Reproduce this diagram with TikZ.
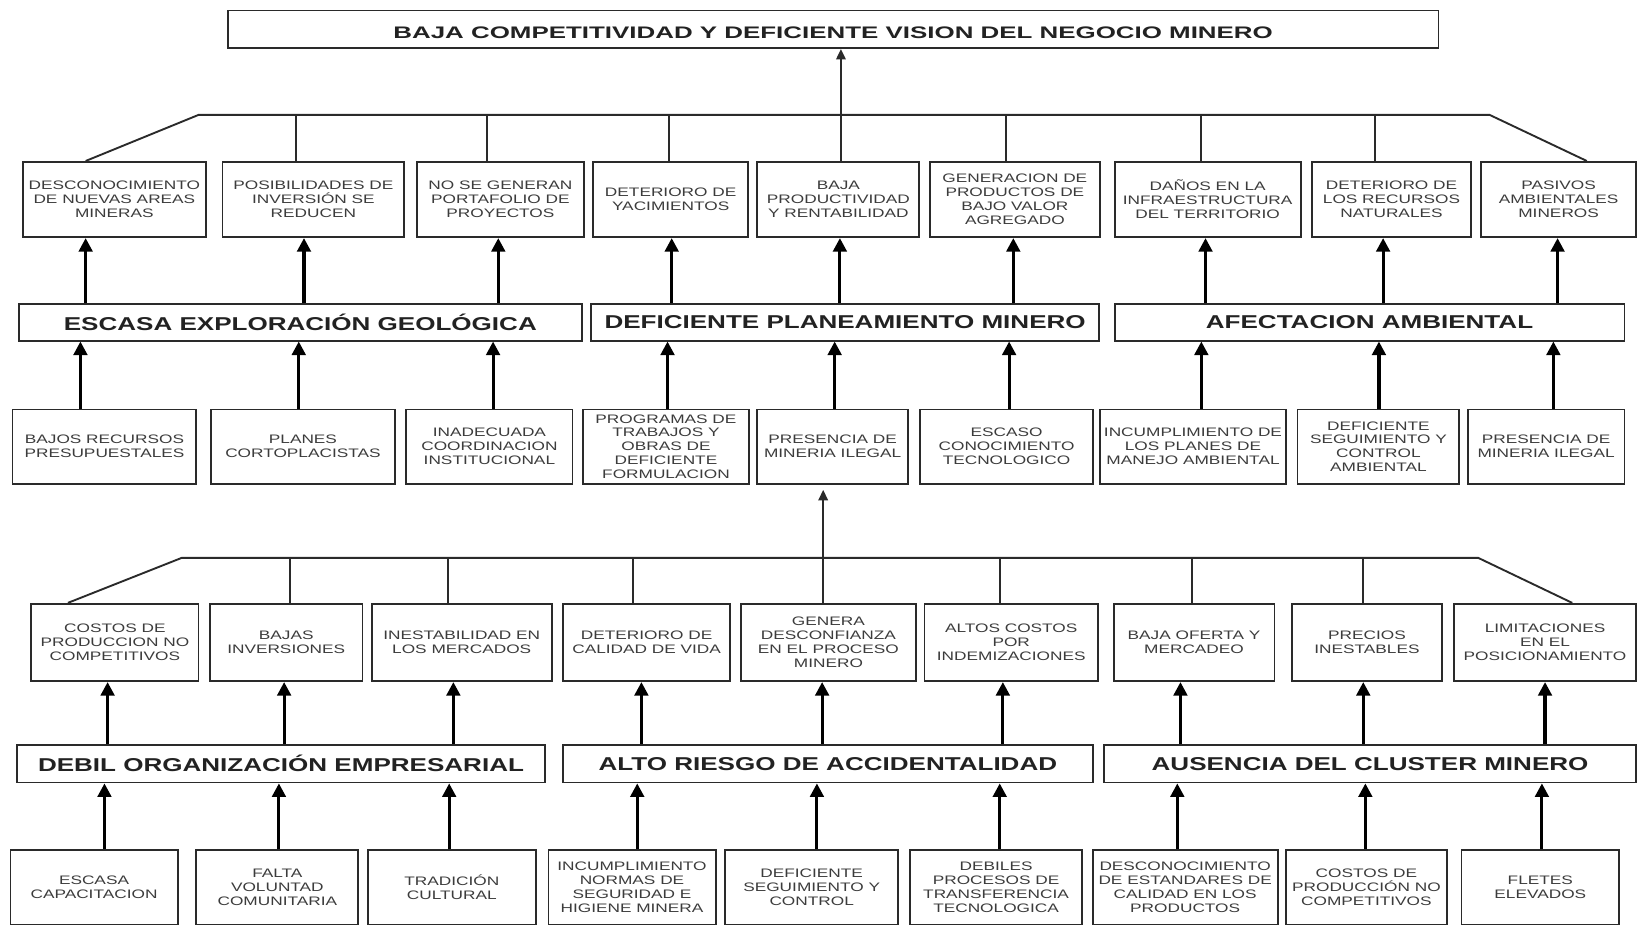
\documentclass[tikz,border=0pt]{standalone}
\usepackage{fontspec}
\setmainfont{Liberation Sans}
\newfontfamily\smf[FakeStretch=1.4]{Liberation Sans}
\newfontfamily\ttlf[FakeStretch=1.55]{Liberation Sans}
\usetikzlibrary{arrows.meta,calc}
\definecolor{ln}{HTML}{2A2A2A}
\definecolor{tx}{HTML}{3C3C3C}
\definecolor{tb}{HTML}{222222}
\tikzset{
 box/.style={draw=ln,line width=1.8pt,fill=white,inner sep=0.5pt,align=center,
   font=\smf\fontsize{11.8}{13.3}\selectfont,text=tx},
 big/.style={box,font=\smf\bfseries\fontsize{17.8}{20}\selectfont,text=tb},
 ttlbox/.style={box,font=\ttlf\bfseries\fontsize{16}{18}\selectfont,text=tb,text height=17pt,text depth=0pt},
 conn/.style={draw=ln,line width=1.8pt},
 arr/.style={draw=black,line width=3pt,-{Triangle[width=13pt,length=13pt]}},
 tarr/.style={draw=ln,line width=2pt,-{Triangle[width=9pt,length=10pt]}},
}
\newcommand{\bx}[7][box]{%
 \pgfmathsetmacro\bxcx{(#3+#5)/2}%
 \pgfmathsetmacro\bxcy{(#4+#6)/2}%
 \pgfmathsetmacro\bxw{#5-#3}%
 \pgfmathsetmacro\bxh{#6-#4}%
 \node[#1,minimum width=\bxw pt,minimum height=\bxh pt] (#2) at (\bxcx,\bxcy) {#7};}
\begin{document}
\begin{tikzpicture}[x=1pt,y=-1pt]
\fill[white] (0,0) rectangle (1568,887);
\useasboundingbox (0,0) rectangle (1568,887);
% top
\bx[ttlbox]{T}{218}{10}{1377}{46}{BAJA COMPETITIVIDAD Y DEFICIENTE VISION DEL NEGOCIO MINERO}
% row 2
\bx{b1}{22}{155}{197}{227}{DESCONOCIMIENTO\\DE NUEVAS AREAS\\MINERAS}
\bx{b2}{213}{155}{387}{227}{POSIBILIDADES DE\\INVERSIÓN SE\\REDUCEN}
\bx{b3}{399}{155}{559}{227}{NO SE GENERAN\\PORTAFOLIO DE\\PROYECTOS}
\bx{b4}{568}{155}{716}{227}{DETERIORO DE\\YACIMIENTOS}
\bx{b5}{725}{155}{880}{227}{BAJA\\PRODUCTIVIDAD\\Y RENTABILIDAD}
\bx{b6}{890}{155}{1053}{227}{GENERACION DE\\PRODUCTOS DE\\BAJO VALOR\\AGREGADO}
\bx{b7}{1067}{155}{1245}{227}{DAÑOS EN LA\\INFRAESTRUCTURA\\DEL TERRITORIO}
\bx{b8}{1256}{155}{1408}{227}{DETERIORO DE\\LOS RECURSOS\\NATURALES}
\bx{b9}{1418}{155}{1566}{227}{PASIVOS\\AMBIENTALES\\MINEROS}
% row 3
\bx[big]{e1}{18}{291}{557}{326}{ESCASA EXPLORACIÓN GEOLÓGICA}
\bx[big]{e2}{566}{291}{1052}{326}{DEFICIENTE PLANEAMIENTO MINERO}
\bx[big]{e3}{1067}{291}{1555}{326}{AFECTACION AMBIENTAL}
% row 4
\bx{c1}{12}{392}{188}{463}{BAJOS RECURSOS\\PRESUPUESTALES}
\bx{c2}{202}{392}{378}{463}{PLANES\\CORTOPLACISTAS}
\bx{c3}{389}{392}{548}{463}{INADECUADA\\COORDINACION\\INSTITUCIONAL}
\bx{c4}{558}{392}{717}{463}{PROGRAMAS DE\\TRABAJOS Y\\OBRAS DE\\DEFICIENTE\\FORMULACION}
\bx{c5}{725}{392}{869}{463}{PRESENCIA DE\\MINERIA ILEGAL}
\bx{c6}{881}{392}{1046}{463}{ESCASO\\CONOCIMIENTO\\TECNOLOGICO}
\bx{c7}{1053}{392}{1231}{463}{INCUMPLIMIENTO DE\\LOS PLANES DE\\MANEJO AMBIENTAL}
\bx{c8}{1242}{392}{1397}{463}{DEFICIENTE\\SEGUIMIENTO Y\\CONTROL\\AMBIENTAL}
\bx{c9}{1405}{392}{1555}{463}{PRESENCIA DE\\MINERIA ILEGAL}
% row 5
\bx{d1}{30}{578}{190}{652}{COSTOS DE\\PRODUCCION NO\\COMPETITIVOS}
\bx{d2}{201}{578}{347}{652}{BAJAS\\INVERSIONES}
\bx{d3}{356}{578}{528}{652}{INESTABILIDAD EN\\LOS MERCADOS}
\bx{d4}{539}{578}{699}{652}{DETERIORO DE\\CALIDAD DE VIDA}
\bx{d5}{709}{578}{877}{652}{GENERA\\DESCONFIANZA\\EN EL PROCESO\\MINERO}
\bx{d6}{885}{578}{1051}{652}{ALTOS COSTOS\\POR\\INDEMIZACIONES}
\bx{d7}{1066}{578}{1220}{652}{BAJA OFERTA Y\\MERCADEO}
\bx{d8}{1237}{578}{1380}{652}{PRECIOS\\INESTABLES}
\bx{d9}{1392}{578}{1566}{652}{LIMITACIONES\\EN EL\\POSICIONAMIENTO}
% row 6
\bx[big]{f1}{16}{713}{522}{749}{DEBIL ORGANIZACIÓN EMPRESARIAL}
\bx[big]{f2}{539}{713}{1046}{749}{ALTO RIESGO DE ACCIDENTALIDAD}
\bx[big]{f3}{1057}{713}{1566}{749}{AUSENCIA DEL CLUSTER MINERO}
% row 7
\bx{g1}{10}{814}{170}{885}{ESCASA\\CAPACITACION}
\bx{g2}{188}{814}{343}{885}{FALTA\\VOLUNTAD\\COMUNITARIA}
\bx{g3}{352}{814}{513}{885}{TRADICIÓN\\CULTURAL}
\bx{g4}{525}{814}{685}{885}{INCUMPLIMIENTO\\NORMAS DE\\SEGURIDAD E\\HIGIENE MINERA}
\bx{g5}{694}{814}{860}{885}{DEFICIENTE\\SEGUIMIENTO Y\\CONTROL}
\bx{g6}{871}{814}{1036}{885}{DEBILES\\PROCESOS DE\\TRANSFERENCIA\\TECNOLOGICA}
\bx{g7}{1046}{814}{1223}{885}{DESCONOCIMIENTO\\DE ESTANDARES DE\\CALIDAD EN LOS\\PRODUCTOS}
\bx{g8}{1231}{814}{1385}{885}{COSTOS DE\\PRODUCCIÓN NO\\COMPETITIVOS}
\bx{g9}{1399}{814}{1550}{885}{FLETES\\ELEVADOS}

% upper tree
\coordinate (h1L) at (190,110);
\coordinate (h1R) at (1426,110);
\draw[conn] ([xshift=-27.5pt]b1.north) -- (h1L) -- (h1R) -- ([xshift=27pt]b9.north);
\foreach \t/\x in {b2/283,b3/466,b4/640,b6/963,b7/1150,b8/1316}{
  \coordinate (tmp) at (\x,0);
  \draw[conn] (h1L -| tmp) -- (\t.north -| tmp);}
\coordinate (vt) at (805,0);
\draw[conn] (b5.north -| vt) -- (h1L -| vt);
\draw[tarr] (h1L -| vt) -- (T.south -| vt);

% lower tree
\coordinate (h2L) at (174,534);
\coordinate (h2R) at (1415,534);
\draw[conn] ([xshift=-45pt]d1.north) -- (h2L) -- (h2R) -- ([xshift=26pt]d9.north);
\foreach \t/\x in {d2/278,d3/429,d4/606,d6/957,d7/1141,d8/1305}{
  \coordinate (tmp) at (\x,0);
  \draw[conn] (h2L -| tmp) -- (\t.north -| tmp);}
\coordinate (vm) at (788,0);
\draw[conn] (d5.north -| vm) -- (h2L -| vm);
\draw[tarr,shorten >=5pt] (h2L -| vm) -- (c5.south -| vm);

% thick arrows
\foreach \s/\t/\x in {e1/b1/82,e1/b2/291,e1/b3/477,e2/b4/643,e2/b5/804,e2/b6/970,e3/b7/1154,e3/b8/1324,e3/b9/1491,
  c1/e1/77,c2/e1/286,c3/e1/472,c4/e2/639,c5/e2/799,c6/e2/966,c7/e3/1150,c8/e3/1320,c9/e3/1487,
  f1/d1/103,f1/d2/272,f1/d3/434,f2/d4/614,f2/d5/787,f2/d6/960,f3/d7/1130,f3/d8/1305,f3/d9/1479,
  g1/f1/100,g2/f1/267,g3/f1/430,g4/f2/610,g5/f2/782,g6/f2/957,g7/f3/1127,g8/f3/1307,g9/f3/1476}{
  \coordinate (tmp) at (\x,0);
  \draw[arr] (\s.north -| tmp) -- (\t.south -| tmp);}
\end{tikzpicture}
\end{document}
